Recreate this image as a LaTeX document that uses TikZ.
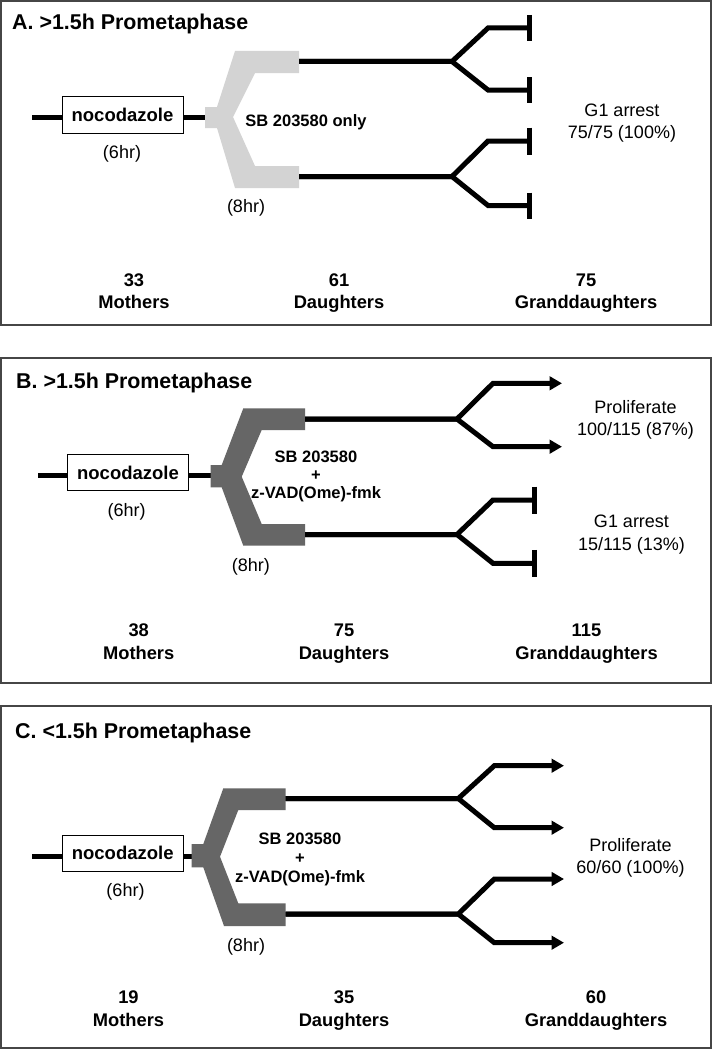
\documentclass[tikz,border=0pt]{standalone}
\usepackage{fontspec}
\setmainfont{Liberation Sans}
\usetikzlibrary{arrows.meta}
\definecolor{forkA}{RGB}{211,211,211}
\definecolor{forkB}{RGB}{102,102,102}
\definecolor{framec}{RGB}{70,70,70}
\tikzset{
  panel/.style={draw=framec, line width=1.5pt},
  ttl/.style={anchor=base west, inner sep=0pt, font=\fontsize{21.4}{25}\selectfont\bfseries},
  lbl/.style={anchor=base, inner sep=0pt, font=\fontsize{18}{21}\selectfont},
  blbl/.style={anchor=base, inner sep=0pt, font=\fontsize{18.3}{21}\selectfont\bfseries},
  flbl/.style={anchor=base, inner sep=0pt, font=\fontsize{16.5}{19}\selectfont\bfseries},
  drug/.style={draw=black, line width=1pt, fill=white, minimum width=121pt, minimum height=36.5pt, inner sep=0pt, font=\fontsize{18.5}{21}\selectfont\bfseries},
  lin/.style={line width=5pt, line join=miter},
  arr/.style={lin, -{Triangle[length=12.5pt,width=13.5pt]}},
  tbar/.style={line width=5pt}
}
\begin{document}
\begin{tikzpicture}[x=1pt,y=-1pt]
\useasboundingbox (0,0) rectangle (712,1049);
\fill[white] (0,0) rectangle (712,1049);

% ================= Panel A =================
\draw[panel] (1,1) rectangle (711,325);
\node[ttl] (tA) at (12,29.5) {A. >1.5h Prometaphase};
\node[drug] (boxA) at (122.5,115) {nocodazole};
\coordinate (inA) at (32,117);
\coordinate (stA) at (205,117);
\draw[lin] (inA) -- (inA -| boxA.west);
\draw[lin] (boxA.east |- inA) -- (stA);
\fill[forkA] (205,107) -- (217,107) -- (235,51) -- (299,51) -- (299,73) -- (255,73) -- (233,117)
  -- (255,166) -- (299,166) -- (299,188) -- (235,188) -- (217,128) -- (205,128) -- cycle;
\node[lbl] (h6A) at (122,158) {(6hr)};
\node[lbl] (h8A) at (246,212.7) {(8hr)};
\node[flbl] (sbA) at (306,126) {SB 203580 only};
\coordinate (dA1) at (299,61.5);  \coordinate (fA1) at (452,61.5);
\coordinate (uA1) at (488,28);    \coordinate (uA1e) at (529,28);
\coordinate (lA1) at (488,90);    \coordinate (lA1e) at (529,90);
\coordinate (dA2) at (299,176.5); \coordinate (fA2) at (452,176.5);
\coordinate (uA2) at (488,141);   \coordinate (uA2e) at (529,141);
\coordinate (lA2) at (488,205.5); \coordinate (lA2e) at (529,205.5);
\draw[lin] (dA1) -- (fA1) -- (uA1) -- (uA1e);
\draw[lin] (dA1) -- (fA1) -- (lA1) -- (lA1e);
\draw[lin] (dA2) -- (fA2) -- (uA2) -- (uA2e);
\draw[lin] (dA2) -- (fA2) -- (lA2) -- (lA2e);
\draw[tbar] (uA1e) ++(0,-13) -- ++(0,26);
\draw[tbar] (lA1e) ++(0,-13) -- ++(0,26);
\draw[tbar] (uA2e) ++(0,-13.5) -- ++(0,27);
\draw[tbar] (lA2e) ++(0,-13) -- ++(0,26);
\node[lbl] (gA1) at (622,116.7) {G1 arrest};
\node[lbl] (gA2) at (622,138.3) {75/75 (100\%)};
\node[blbl] (nA1) at (134,286.7) {33};
\node[blbl] (nA2) at (134,308.3) {Mothers};
\node[blbl] (nA3) at (339,286.7) {61};
\node[blbl] (nA4) at (339,308.3) {Daughters};
\node[blbl] (nA5) at (586,286.7) {75};
\node[blbl] (nA6) at (586,308.3) {Granddaughters};

% ================= Panel B =================
\draw[panel] (1,358) rectangle (711,683);
\node[ttl] (tB) at (16,388.3) {B. >1.5h Prometaphase};
\node[drug] (boxB) at (128,472.7) {nocodazole};
\coordinate (inB) at (38,475);
\coordinate (stB) at (210.7,475);
\draw[lin] (inB) -- (inB -| boxB.west);
\draw[lin] (boxB.east |- inB) -- (stB);
\fill[forkB] (210.7,465) -- (221.7,465) -- (243.3,408.3) -- (305,408.3) -- (305,430) -- (261.7,430) -- (241.7,476.7)
  -- (261.7,524) -- (305,524) -- (305,545.7) -- (243.3,545.7) -- (221.7,487.3) -- (210.7,487.3) -- cycle;
\node[lbl] (h6B) at (126.7,516.4) {(6hr)};
\node[lbl] (h8B) at (250.8,571) {(8hr)};
\node[flbl] (sbB1) at (316,462.8) {SB 203580};
\node[flbl] (sbB2) at (316,480.8) {+};
\node[flbl] (sbB3) at (316,498.8) {z-VAD(Ome)-fmk};
\coordinate (dB1) at (305,419);   \coordinate (fB1) at (457,419);
\coordinate (uB1) at (493,383.3); \coordinate (uB1e) at (562,383.3);
\coordinate (lB1) at (493,446.7); \coordinate (lB1e) at (562,446.7);
\coordinate (dB2) at (305,534.5); \coordinate (fB2) at (457,534.5);
\coordinate (uB2) at (493,500);   \coordinate (uB2e) at (534,500);
\coordinate (lB2) at (493,563.3); \coordinate (lB2e) at (534,563.3);
\draw[arr] (dB1) -- (fB1) -- (uB1) -- (uB1e);
\draw[arr] (dB1) -- (fB1) -- (lB1) -- (lB1e);
\draw[lin] (dB2) -- (fB2) -- (uB2) -- (uB2e);
\draw[lin] (dB2) -- (fB2) -- (lB2) -- (lB2e);
\draw[tbar] (uB2e) ++(0,-13.5) -- ++(0,27);
\draw[tbar] (lB2e) ++(0,-13.5) -- ++(0,27);
\node[lbl] (pB1) at (635.5,413.3) {Proliferate};
\node[lbl] (pB2) at (635.5,435.7) {100/115 (87\%)};
\node[lbl] (gB1) at (631.5,527.3) {G1 arrest};
\node[lbl] (gB2) at (631.5,550) {15/115 (13\%)};
\node[blbl] (nB1) at (138.7,636.7) {38};
\node[blbl] (nB2) at (138.7,659) {Mothers};
\node[blbl] (nB3) at (344,636.7) {75};
\node[blbl] (nB4) at (344,659) {Daughters};
\node[blbl] (nB5) at (586.5,636.7) {115};
\node[blbl] (nB6) at (586.5,659) {Granddaughters};

% ================= Panel C =================
\draw[panel] (1,706) rectangle (711,1048);
\node[ttl] (tC) at (15,738.3) {C. <1.5h Prometaphase};
\node[drug] (boxC) at (122.7,853.3) {nocodazole};
\coordinate (inC) at (32.3,856);
\coordinate (stC) at (191.7,856);
\draw[lin] (inC) -- (inC -| boxC.west);
\draw[lin] (boxC.east |- inC) -- (stC);
\fill[forkB] (191.7,844) -- (203.3,844) -- (223.3,788.3) -- (285.7,788.3) -- (285.7,810) -- (238.3,810) -- (220,856.7)
  -- (238.3,903.3) -- (285.7,903.3) -- (285.7,926) -- (224,926) -- (203.3,867.3) -- (191.7,867.3) -- cycle;
\node[lbl] (h6C) at (125.5,896.4) {(6hr)};
\node[lbl] (h8C) at (246,951.4) {(8hr)};
\node[flbl] (sbC1) at (300,844) {SB 203580};
\node[flbl] (sbC2) at (300,863) {+};
\node[flbl] (sbC3) at (300,882) {z-VAD(Ome)-fmk};
\coordinate (dC1) at (285.7,798.5); \coordinate (fC1) at (458.3,798.5);
\coordinate (uC1) at (494.3,765.7); \coordinate (uC1e) at (564,765.7);
\coordinate (lC1) at (494.3,827.7); \coordinate (lC1e) at (564,827.7);
\coordinate (dC2) at (285.7,914);   \coordinate (fC2) at (458.3,914);
\coordinate (uC2) at (494.3,879);   \coordinate (uC2e) at (564,879);
\coordinate (lC2) at (494.3,942.7); \coordinate (lC2e) at (564,942.7);
\draw[arr] (dC1) -- (fC1) -- (uC1) -- (uC1e);
\draw[arr] (dC1) -- (fC1) -- (lC1) -- (lC1e);
\draw[arr] (dC2) -- (fC2) -- (uC2) -- (uC2e);
\draw[arr] (dC2) -- (fC2) -- (lC2) -- (lC2e);
\node[lbl] (pC1) at (630.5,851) {Proliferate};
\node[lbl] (pC2) at (630.5,873.3) {60/60 (100\%)};
\node[blbl] (nC1) at (128.5,1003.3) {19};
\node[blbl] (nC2) at (128.5,1026) {Mothers};
\node[blbl] (nC3) at (344,1003.3) {35};
\node[blbl] (nC4) at (344,1026) {Daughters};
\node[blbl] (nC5) at (596,1003.3) {60};
\node[blbl] (nC6) at (596,1026) {Granddaughters};
\end{tikzpicture}
\end{document}
